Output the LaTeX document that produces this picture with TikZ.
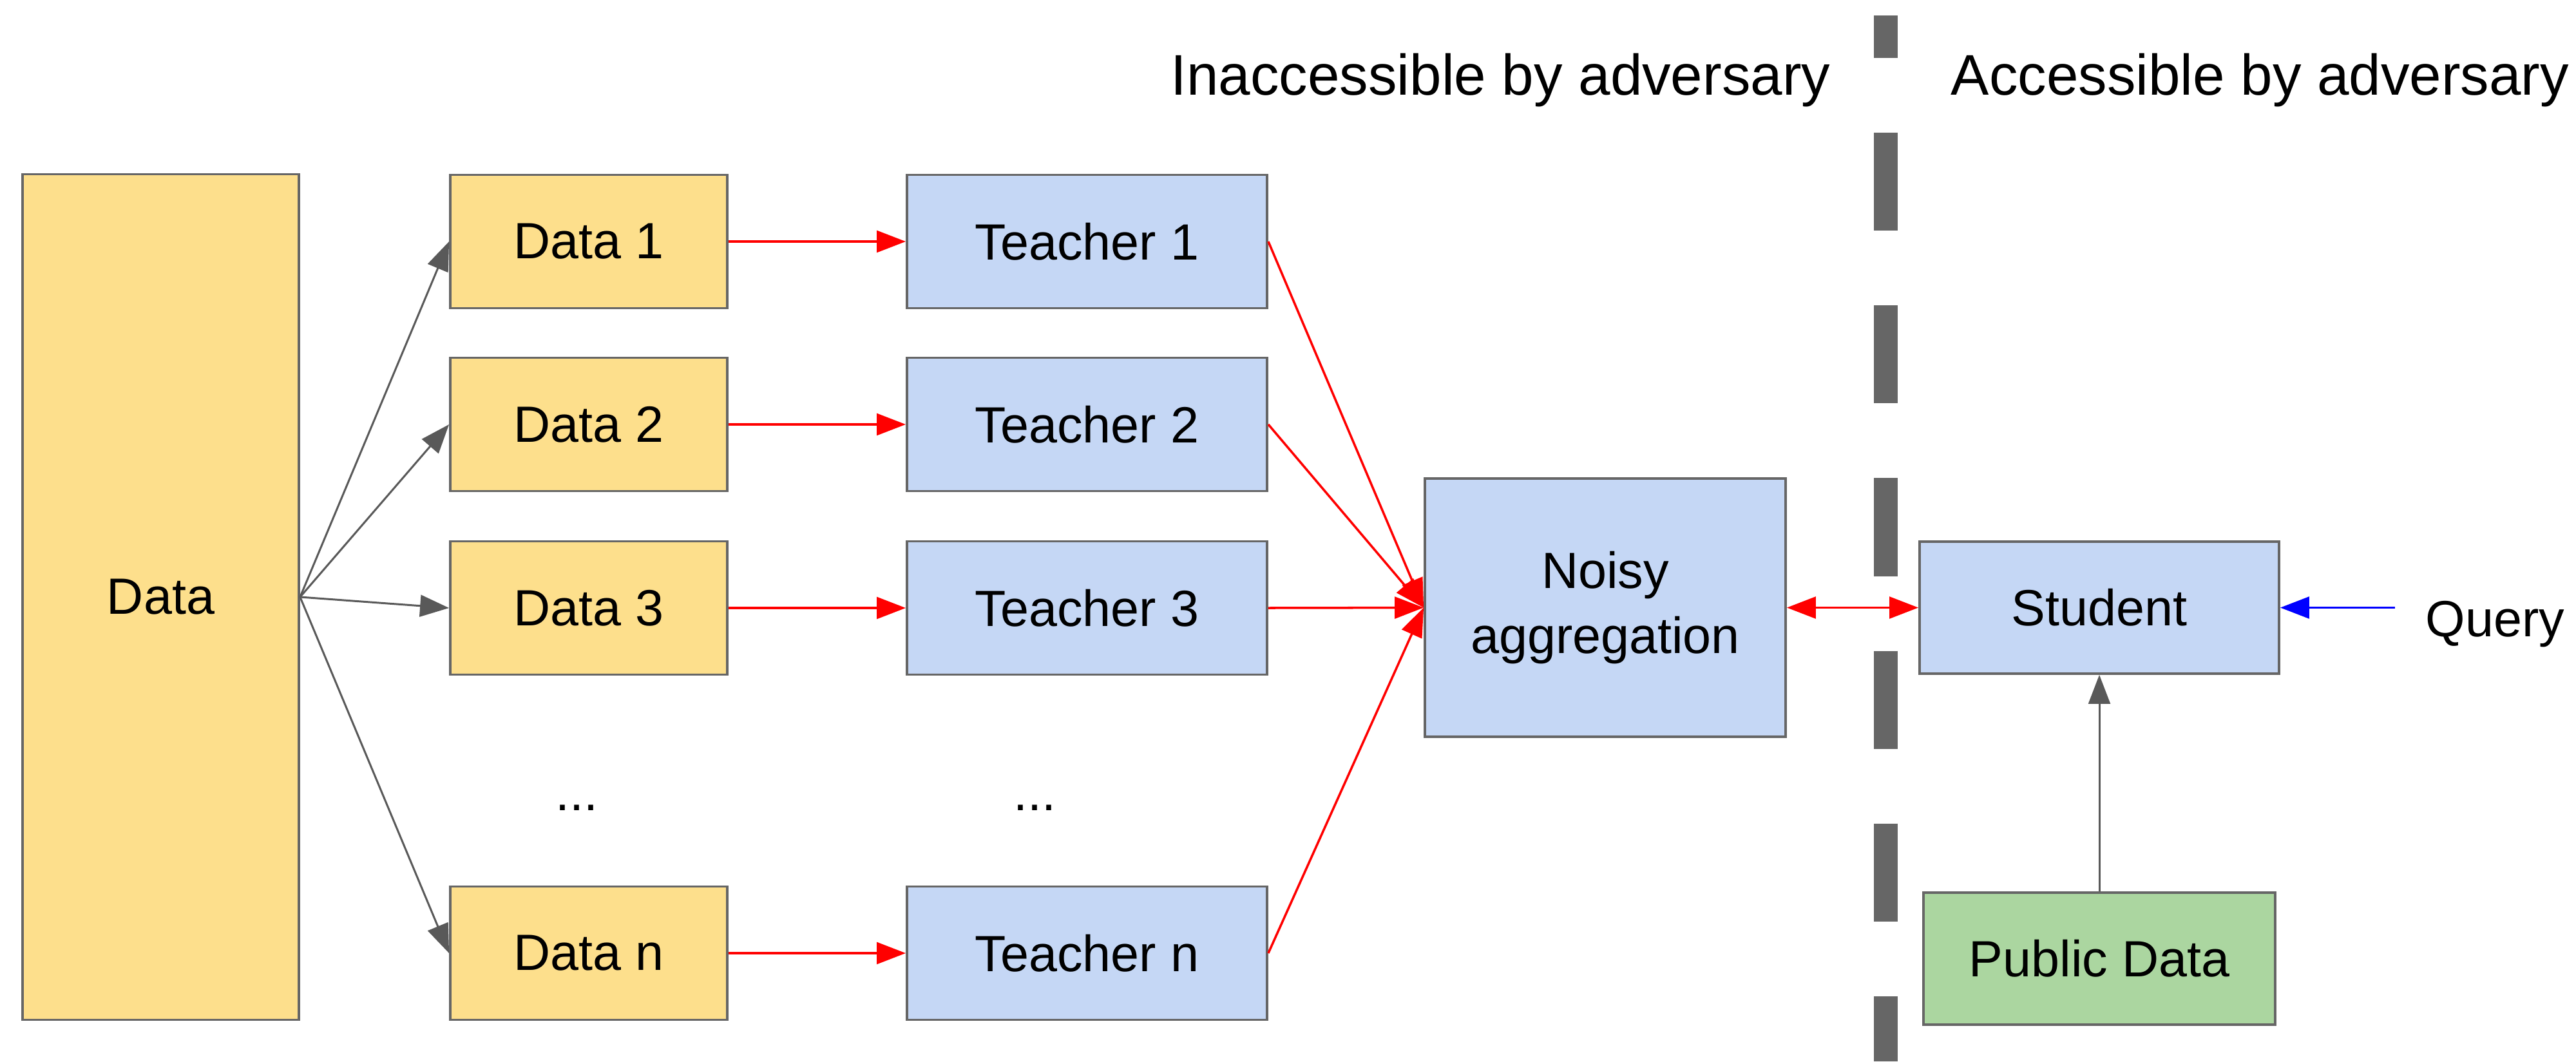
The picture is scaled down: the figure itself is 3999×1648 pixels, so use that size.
\documentclass[tikz,border=0pt]{standalone}
\usepackage{fontspec}
\setmainfont{Liberation Sans}
\usetikzlibrary{arrows.meta}
\definecolor{yel}{HTML}{FDDF8C}
\definecolor{blu}{HTML}{C5D7F5}
\definecolor{grn}{HTML}{ABD6A0}
\definecolor{bord}{HTML}{666666}
\definecolor{arrg}{HTML}{595959}
\definecolor{sepc}{HTML}{666666}
\definecolor{qblue}{HTML}{0000FF}
\definecolor{rred}{HTML}{FF0000}
\begin{document}
\begin{tikzpicture}[x=0.01cm,y=-0.01cm,
  box/.style={draw=bord, line width=1pt, inner sep=0pt, align=center,
    font=\fontsize{22.5}{28.5}\selectfont},
  ybox/.style={box, fill=yel, minimum width=4.3cm, minimum height=2.07cm},
  bbox/.style={box, fill=blu, minimum width=5.59cm, minimum height=2.07cm},
  gbox/.style={box, fill=grn},
  lbl/.style={inner sep=0pt, font=\fontsize{22.5}{28.5}\selectfont},
  hdr/.style={inner sep=0pt, anchor=base west, font=\fontsize{25.3}{30}\selectfont},
  tip/.style={-{Triangle[length=12.8pt,width=9.6pt]}},
  garrow/.style={draw=arrg, line width=0.85pt, tip},
  rarrow/.style={draw=rred, line width=1pt, tip},
  barrow/.style={draw=qblue, line width=1pt, tip},
  sepline/.style={draw=sepc, line width=0.37cm, dash pattern=on 1.52cm off 1.16cm, dash phase=0.86cm}
]
\useasboundingbox (0,0) rectangle (3999,1648);

% separator
\coordinate (septop) at (2927.5,24);
\coordinate (sepbot) at (2927.5,1648);
\draw[sepline] (septop) -- (sepbot);

% headers
\node[hdr] (inacc) at (1817,147) {Inaccessible by adversary};
\node[hdr] (acc) at (3028,147) {Accessible by adversary};

% data
\node[box, fill=yel, minimum width=4.29cm, minimum height=13.12cm] (data) at (249.5,927) {Data};
\node[ybox] (d1) at (914,375) {Data 1};
\node[ybox] (d2) at (914,659) {Data 2};
\node[ybox] (d3) at (914,944) {Data 3};
\node[ybox] (dn) at (914,1480) {Data n};
\node[lbl, anchor=base] (ddots) at (895,1258) {...};

% teachers
\node[bbox] (t1) at (1687.5,375) {Teacher 1};
\node[bbox] (t2) at (1687.5,659) {Teacher 2};
\node[bbox] (t3) at (1687.5,944) {Teacher 3};
\node[bbox] (tn) at (1687.5,1480) {Teacher n};
\node[lbl, anchor=base] (tdots) at (1606,1258) {...};

% aggregation
\node[box, fill=blu, minimum width=5.6cm, minimum height=4.01cm] (agg) at (2492,943.5) {Noisy\\aggregation};

% student side
\node[box, fill=blu, minimum width=5.58cm, minimum height=2.05cm] (stu) at (3259,943.5) {Student};
\node[gbox, minimum width=5.46cm, minimum height=2.05cm] (pub) at (3259,1488.5) {Public Data};
\node[lbl, anchor=base west] (query) at (3765,988) {Query};
\coordinate (qstart) at (3718,943.5);

% connectors
\foreach \n in {d1,d2,d3,dn} \draw[garrow] (data.east) -- (\n.west);
\draw[rarrow] (d1) -- (t1);
\draw[rarrow] (d2) -- (t2);
\draw[rarrow] (d3) -- (t3);
\draw[rarrow] (dn) -- (tn);
\foreach \n in {t1,t2,t3,tn} \draw[rarrow] (\n.east) -- (agg.west);
\draw[draw=rred, line width=1pt, {Triangle[length=12.8pt,width=9.6pt]}-{Triangle[length=12.8pt,width=9.6pt]}] (agg.east) -- (stu.west);
\draw[garrow] (pub.north) -- (stu.south);
\draw[barrow] (qstart) -- (stu.east);
\end{tikzpicture}
\end{document}
